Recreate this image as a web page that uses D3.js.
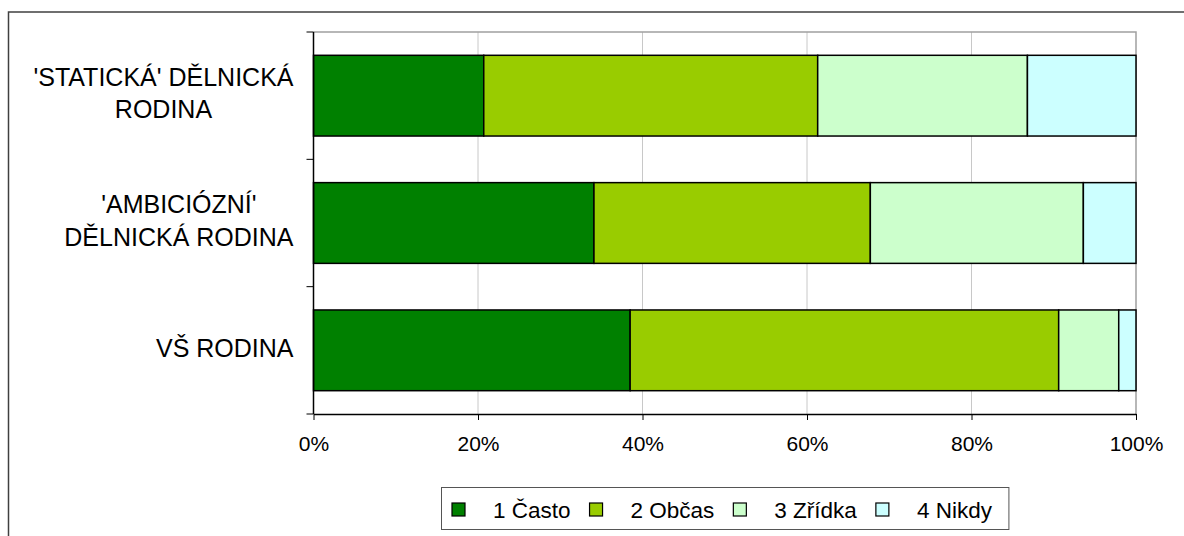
<!DOCTYPE html>
<html>
<head>
<meta charset="utf-8">
<script src="https://cdn.jsdelivr.net/npm/d3@7"></script>
<style>
    body { margin: 0; background: #fff; }
    svg { display: block; font-family: 'Liberation Sans', Arial, sans-serif; }
</style>
</head>
<body>
<svg width="1184" height="536"></svg>
<script>
// data
const categories = ["'STATICKÁ' DĚLNICKÁ RODINA", "'AMBICIÓZNÍ' DĚLNICKÁ RODINA", "VŠ RODINA"]
const categoryLines = [["'STATICKÁ' DĚLNICKÁ", "RODINA"], ["'AMBICIÓZNÍ'", "DĚLNICKÁ RODINA"], ["VŠ RODINA"]]
const seriesNames = ["1 Často", "2 Občas", "3 Zřídka", "4 Nikdy"]
const casto = [20.7, 34.1, 38.5]
const obcas = [40.6, 33.6, 52.1]
const zridka = [25.5, 25.9, 7.3]
const nikdy = [13.2, 6.4, 2.1]
const tickValues = [0, 20, 40, 60, 80, 100]

const colors = ['#008000', '#99cc00', '#ccffcc', '#ccffff']

main()

function main() {

    //constants
    const svg = d3.select('svg')
    const left = 313.5
    const right = 1136
    const top = 32
    const bottom = 414
    const seriesValues = [casto, obcas, zridka, nikdy]

    // stacked rows
    const rows = categories.map((c, i) => {
        const row = { cat: c }
        seriesNames.forEach((s, j) => row[s] = seriesValues[j][i])
        return row
    })
    const stacked = d3.stack().keys(seriesNames)(rows)

    //scales
    const x = d3.scaleLinear()
        .domain([0, 100])
        .range([left, right])
    const y = d3.scaleBand()
        .domain(categories)
        .range([top, bottom])
        .paddingInner(0.366)
        .paddingOuter(0.183)

    //outer border
    svg.append('rect')
        .attr('x', 8.5)
        .attr('y', 12)
        .attr('width', 1200)
        .attr('height', 600)
        .attr('fill', 'none')
        .attr('stroke', '#404040')
        .attr('stroke-width', 1.5)

    //gridlines
    svg.append('g')
        .selectAll('line')
        .data(tickValues.slice(1, -1))
        .enter()
        .append('line')
        .attr('x1', d => x(d))
        .attr('x2', d => x(d))
        .attr('y1', top)
        .attr('y2', bottom)
        .attr('stroke', '#c8c8c8')
        .attr('stroke-width', 1)

    // plot frame top + right
    svg.append('path')
        .attr('d', `M${left},${top}H${right}V${bottom}`)
        .attr('fill', 'none')
        .attr('stroke', '#a0a0a0')
        .attr('stroke-width', 1.5)

    //bars
    svg.append('g')
        .selectAll('g')
        .data(stacked)
        .enter()
        .append('g')
        .attr('fill', (_, i) => colors[i])
        .selectAll('rect')
        .data(d => d)
        .enter()
        .append('rect')
        .attr('x', d => x(d[0]))
        .attr('y', d => y(d.data.cat))
        .attr('width', d => x(d[1]) - x(d[0]))
        .attr('height', y.bandwidth())
        .attr('stroke', '#000')
        .attr('stroke-width', 1.5)

    //axes
    const xAxis = d3.axisBottom(x)
        .tickValues(tickValues)
        .tickSize(6)
        .tickSizeOuter(0)
        .tickFormat(d => d + '%')
    const gx = svg.append('g')
        .attr('transform', 'translate(0,' + bottom + ')')
        .style('font-size', '21px')
        .style('font-family', "'Liberation Sans', Arial, sans-serif")
        .call(xAxis)
    gx.select('.domain').attr('stroke', '#000').attr('stroke-width', 1.5)
    gx.selectAll('.tick line').attr('stroke', '#000')
    gx.selectAll('.tick text').attr('y', 0).attr('dy', 37).attr('fill', '#000')

    // y axis line + ticks at band edges
    const step = y.step()
    const edges = categories.map(c => y(c) - step * y.paddingInner() / 2).concat([bottom])
    svg.append('line')
        .attr('x1', left)
        .attr('x2', left)
        .attr('y1', top)
        .attr('y2', bottom)
        .attr('stroke', '#000')
        .attr('stroke-width', 1.5)
    svg.append('g')
        .selectAll('line')
        .data(edges)
        .enter()
        .append('line')
        .attr('x1', left - 7)
        .attr('x2', left)
        .attr('y1', d => d)
        .attr('y2', d => d)
        .attr('stroke', '#000')

    //category labels
    const labels = svg.append('g')
        .style('font-size', '25px')
        .attr('fill', '#000')
    categories.forEach((c, i) => {
        const lines = categoryLines[i]
        const center = y(c) + y.bandwidth() / 2
        const g = labels.append('g')
        const texts = g.selectAll('text')
            .data(lines)
            .enter()
            .append('text')
            .attr('y', (_, k) => center + 6.3 + (k - (lines.length - 1) / 2) * 32.6)
            .attr('text-anchor', 'middle')
            .text(d => d)
        const maxW = d3.max(texts.nodes(), n => n.getComputedTextLength())
        texts.attr('x', left - 20 - maxW / 2)
    })

    //legend
    const legend = svg.append('g')
    const box = legend.append('rect')
        .attr('x', 441.5)
        .attr('y', 487.5)
        .attr('height', 42)
        .attr('fill', '#fff')
        .attr('stroke', '#555')
        .attr('stroke-width', 1)
    let lx = 452
    seriesNames.forEach((s, i) => {
        legend.append('rect')
            .attr('x', lx)
            .attr('y', 503)
            .attr('width', 13)
            .attr('height', 13)
            .attr('fill', colors[i])
            .attr('stroke', '#000')
            .attr('stroke-width', 1.2)
        const t = legend.append('text')
            .attr('x', lx + 41)
            .attr('y', 518)
            .style('font-size', '22.5px')
            .attr('fill', '#000')
            .text(s)
        lx = lx + 41 + t.node().getComputedTextLength() + 19
    })
    box.attr('width', lx - 441.5 - 2)
}
</script>
</body>
</html>
